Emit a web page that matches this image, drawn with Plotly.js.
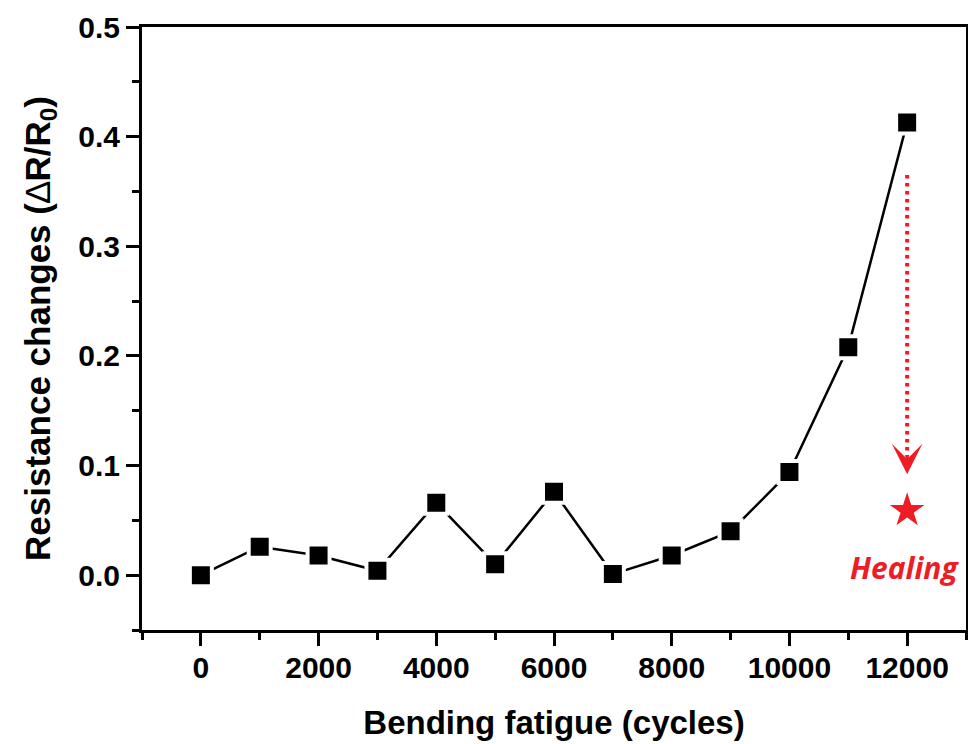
<!DOCTYPE html>
<html>
<head>
<meta charset="utf-8">
<script src="https://cdn.plot.ly/plotly-3.0.1.min.js"></script>
<style>html,body{margin:0;padding:0;background:#fff;}#chart{width:968px;height:744px;}</style>
</head>
<body>
<div id="chart"></div>
<script>
// Data
const cycles = [0, 1000, 2000, 3000, 4000, 5000, 6000, 7000, 8000, 9000, 10000, 11000, 12000];
const resistanceChange = [0.000, 0.026, 0.018, 0.004, 0.066, 0.010, 0.076, 0.001, 0.018, 0.040, 0.094, 0.208, 0.413];
const healedCycles = [12000];
const healedValue = [0.059];
const arrowX = [12000, 12000];
const arrowY = [0.365, 0.108];
const arrowTipY = 0.092;
const healingLabel = "Healing";
const xTitle = "Bending fatigue (cycles)";
const yTitle = 'Resistance changes (<span style="font-weight:normal">\u2206</span>R/R<sub>0</sub>)';

const RED = '#ee1c25';
const FONT = 'Liberation Sans, Arial, sans-serif';

const traces = [
  {
    x: cycles, y: resistanceChange, type: 'scatter', mode: 'lines+markers',
    line: {color: '#000', width: 2.5},
    marker: {symbol: 'square', size: 22, color: '#000', line: {color: '#fff', width: 4}},
    hoverinfo: 'skip', showlegend: false, cliponaxis: false
  },
  {
    x: arrowX, y: arrowY, type: 'scatter', mode: 'lines',
    line: {color: RED, width: 4, dash: '3.5px,4.5px'},
    hoverinfo: 'skip', showlegend: false
  },
  {
    x: healedCycles, y: healedValue, type: 'scatter', mode: 'markers',
    marker: {symbol: 'star', size: 26, color: RED, line: {width: 0}},
    hoverinfo: 'skip', showlegend: false
  }
];

const axisCommon = {
  showgrid: false, zeroline: false,
  showline: true, linecolor: '#000', linewidth: 3, mirror: true,
  ticks: 'outside', ticklen: 13, tickwidth: 3, tickcolor: '#000',
  tickfont: {family: FONT, size: 30, color: '#000', weight: 'bold'}
};

const layout = {
  width: 968, height: 744,
  margin: {l: 142, r: 2, t: 27, b: 114},
  paper_bgcolor: '#fff', plot_bgcolor: '#fff',
  xaxis: Object.assign({}, axisCommon, {
    range: [-1000, 13000], tick0: 0, dtick: 2000, tickformat: 'd',
    ticklabelstandoff: -4,
    minor: {ticks: 'outside', ticklen: 7, tickwidth: 3, tickcolor: '#000', dtick: 1000, tick0: 0, showgrid: false},
    title: {text: xTitle, standoff: 28, font: {family: FONT, size: 33, color: '#000', weight: 'bold'}}
  }),
  yaxis: Object.assign({}, axisCommon, {
    range: [-0.05, 0.5], tick0: 0, dtick: 0.1, tickformat: '.1f',
    minor: {ticks: 'outside', ticklen: 7, tickwidth: 3, tickcolor: '#000', dtick: 0.05, tick0: 0, showgrid: false},
    title: {text: yTitle, standoff: 18, font: {family: FONT, size: 35, color: '#000', weight: 'bold'}}
  }),
  annotations: [
    {
      x: healedCycles[0], y: arrowTipY, xref: 'x', yref: 'y',
      ax: 0, ay: -20, axref: 'pixel', ayref: 'pixel',
      text: '', showarrow: true, arrowhead: 3, arrowsize: 1.7, arrowwidth: 3, arrowcolor: RED
    },
    {
      x: 11950, y: 0.007, xref: 'x', yref: 'y', xanchor: 'center', yanchor: 'middle',
      text: healingLabel, showarrow: false,
      font: {family: 'Open Sans, sans-serif', size: 30, color: RED, weight: 'bold', style: 'italic'}
    }
  ]
};

Plotly.newPlot('chart', traces, layout, {staticPlot: true, displayModeBar: false});
</script>
</body>
</html>
